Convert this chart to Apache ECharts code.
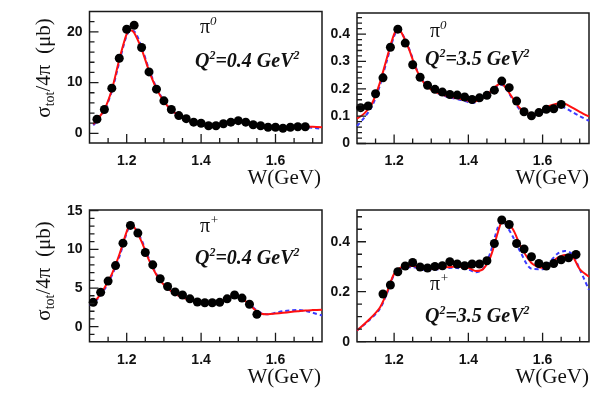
<!DOCTYPE html>
<html>
<head>
<meta charset="utf-8">
<script src="https://cdn.jsdelivr.net/npm/echarts@6.0.0/dist/echarts.min.js"></script>
<style>
html,body{margin:0;padding:0;background:#fff;}
#chart{width:611px;height:395px;}
</style>
</head>
<body>
<div id="chart"></div>
<script>
// ---------- data points ----------
const W_pi0_04 = [1.12,1.14,1.16,1.18,1.20,1.22,1.24,1.26,1.28,1.30,1.32,1.34,1.36,1.38,1.40,1.42,1.44,1.46,1.48,1.50,1.52,1.54,1.56,1.58,1.60,1.62,1.64,1.66,1.68];
const sig_pi0_04 = [2.8,4.7,8.9,14.8,20.5,21.3,16.9,12.1,8.7,6.4,4.7,3.5,2.9,2.2,2.0,1.5,1.5,1.9,2.2,2.5,2.2,1.7,1.5,1.2,1.2,1.0,1.2,1.3,1.3];

const W_pi0_35 = [1.11,1.13,1.15,1.17,1.19,1.21,1.23,1.25,1.27,1.29,1.31,1.33,1.35,1.37,1.39,1.41,1.43,1.45,1.47,1.49,1.51,1.53,1.55,1.57,1.59,1.61,1.63,1.65];
const sig_pi0_35 = [0.131,0.137,0.182,0.240,0.352,0.418,0.367,0.288,0.242,0.213,0.198,0.188,0.179,0.177,0.170,0.161,0.167,0.176,0.195,0.228,0.204,0.155,0.116,0.101,0.113,0.125,0.127,0.143];

const W_pip_04 = [1.11,1.13,1.15,1.17,1.19,1.21,1.23,1.25,1.27,1.29,1.31,1.33,1.35,1.37,1.39,1.41,1.43,1.45,1.47,1.49,1.51,1.53,1.55];
const sig_pip_04 = [3.15,4.44,5.9,7.9,10.8,13.1,12.1,9.6,8.0,6.2,5.2,4.5,4.1,3.6,3.2,3.1,3.1,3.15,3.6,4.1,3.7,2.9,1.6];

const W_pip_35 = [1.17,1.19,1.21,1.23,1.25,1.27,1.29,1.31,1.33,1.35,1.37,1.39,1.41,1.43,1.45,1.47,1.49,1.51,1.53,1.55,1.57,1.59,1.61,1.63,1.65,1.67,1.69];
const sig_pip_35 = [0.191,0.227,0.280,0.303,0.317,0.299,0.295,0.301,0.304,0.320,0.311,0.304,0.311,0.311,0.324,0.393,0.487,0.469,0.393,0.371,0.340,0.313,0.303,0.313,0.328,0.336,0.349];

// ---------- model curves (red solid, blue dashed) ----------
const Wfit_pi0_04 = [1.11,1.12,1.14,1.16,1.18,1.20,1.21,1.22,1.24,1.26,1.28,1.30,1.32,1.34,1.36,1.38,1.40,1.42,1.44,1.46,1.48,1.50,1.52,1.54,1.56,1.58,1.60,1.62,1.64,1.66,1.68,1.70,1.725];
const red_pi0_04  = [1.8,2.6,4.7,8.6,14.5,19.6,20.3,19.8,16.6,12.3,8.8,6.3,4.6,3.5,2.7,2.2,1.9,1.7,1.7,1.9,2.2,2.4,2.1,1.7,1.4,1.2,1.1,1.1,1.2,1.3,1.3,1.3,1.2];
const blue_pi0_04 = [1.6,2.4,4.5,8.3,14.0,19.3,20.2,20.1,17.0,12.6,9.0,6.4,4.6,3.5,2.7,2.2,1.9,1.7,1.7,1.9,2.2,2.4,2.1,1.7,1.4,1.2,1.1,1.1,1.2,1.2,1.2,1.1,0.9];

const Wfit_pi0_35 = [1.10,1.12,1.14,1.16,1.18,1.20,1.21,1.22,1.24,1.26,1.28,1.30,1.32,1.34,1.36,1.38,1.40,1.41,1.42,1.44,1.46,1.48,1.49,1.50,1.52,1.54,1.56,1.58,1.60,1.62,1.64,1.65,1.66,1.68,1.70,1.725];
const red_pi0_35  = [0.091,0.110,0.145,0.215,0.310,0.400,0.418,0.405,0.345,0.270,0.222,0.197,0.183,0.174,0.168,0.163,0.155,0.152,0.154,0.168,0.190,0.215,0.218,0.205,0.165,0.128,0.110,0.108,0.122,0.138,0.146,0.149,0.146,0.131,0.116,0.099];
const blue_pi0_35 = [0.064,0.095,0.135,0.205,0.300,0.392,0.413,0.405,0.348,0.274,0.224,0.197,0.182,0.172,0.165,0.159,0.151,0.148,0.150,0.165,0.187,0.212,0.215,0.203,0.160,0.122,0.105,0.104,0.115,0.124,0.131,0.133,0.130,0.115,0.100,0.083];

const Wfit_pip_04 = [1.10,1.12,1.14,1.16,1.18,1.20,1.21,1.22,1.24,1.26,1.28,1.30,1.32,1.34,1.36,1.38,1.40,1.42,1.44,1.46,1.48,1.49,1.50,1.52,1.54,1.56,1.58,1.60,1.62,1.64,1.66,1.68,1.70,1.725];
const red_pip_04  = [2.9,3.6,5.0,6.8,9.3,12.3,13.2,12.9,11.0,8.6,6.7,5.4,4.6,4.0,3.6,3.3,3.2,3.1,3.2,3.4,3.9,4.0,3.9,3.3,2.4,1.7,1.6,1.7,1.8,1.9,2.0,2.1,2.15,2.2];
const blue_pip_04 = [2.8,3.5,4.8,6.6,9.0,12.1,13.1,12.9,11.2,8.8,6.8,5.5,4.6,4.0,3.6,3.3,3.2,3.1,3.2,3.4,3.8,4.0,3.9,3.4,2.5,1.8,1.6,1.8,2.0,2.1,2.15,2.05,1.8,1.45];

const Wfit_pip_35 = [1.10,1.13,1.16,1.18,1.20,1.22,1.25,1.29,1.33,1.36,1.40,1.42,1.44,1.46,1.48,1.49,1.50,1.52,1.54,1.57,1.60,1.62,1.64,1.66,1.68,1.70,1.725];
const red_pip_35  = [0.045,0.085,0.133,0.195,0.272,0.298,0.303,0.291,0.296,0.300,0.296,0.283,0.291,0.340,0.440,0.478,0.480,0.450,0.385,0.315,0.296,0.312,0.335,0.347,0.342,0.290,0.260];
const blue_pip_35 = [0.045,0.082,0.128,0.190,0.268,0.295,0.298,0.286,0.292,0.296,0.288,0.278,0.292,0.360,0.460,0.480,0.470,0.420,0.360,0.292,0.290,0.320,0.352,0.363,0.350,0.290,0.207];

// ---------- ticks ----------
const xRange = [1.1, 1.725];
const xMajor = [1.2, 1.4, 1.6];
const xMinor = [1.15, 1.25, 1.3, 1.35, 1.45, 1.5, 1.55, 1.65, 1.7];

const yRange1 = [-1.9, 24.0], yMajor1 = [0, 10, 20], yMinor1 = [2,4,6,8,12,14,16,18,22];
const yRange2 = [0, 0.477], yMajor2 = [0, 0.1, 0.2, 0.3, 0.4], yMinor2 = [0.02,0.04,0.06,0.08,0.12,0.14,0.16,0.18,0.22,0.24,0.26,0.28,0.32,0.34,0.36,0.38,0.42,0.44,0.46];
const yRange3 = [-1.94, 15.09], yMajor3 = [0, 5, 10, 15], yMinor3 = [-1,1,2,3,4,6,7,8,9,11,12,13,14];
const yRange4 = [0, 0.527], yMajor4 = [0, 0.2, 0.4], yMinor4 = [0.05,0.1,0.15,0.25,0.3,0.35,0.45,0.5];

const zip = (a, b) => a.map((v, i) => [v, b[i]]);

const panels = [
  {grid:{left:89.5, top:11.5, width:232.5, height:131.5}, yr:yRange1, yM:yMajor1, ym:yMinor1,
   W:W_pi0_04, s:sig_pi0_04, Wf:Wfit_pi0_04, r:red_pi0_04, b:blue_pi0_04},
  {grid:{left:357, top:13, width:232, height:130.5}, yr:yRange2, yM:yMajor2, ym:yMinor2,
   W:W_pi0_35, s:sig_pi0_35, Wf:Wfit_pi0_35, r:red_pi0_35, b:blue_pi0_35},
  {grid:{left:89.5, top:210, width:232.5, height:131.7}, yr:yRange3, yM:yMajor3, ym:yMinor3,
   W:W_pip_04, s:sig_pip_04, Wf:Wfit_pip_04, r:red_pip_04, b:blue_pip_04},
  {grid:{left:357, top:210, width:232, height:131.7}, yr:yRange4, yM:yMajor4, ym:yMinor4,
   W:W_pip_35, s:sig_pip_35, Wf:Wfit_pip_35, r:red_pip_35, b:blue_pip_35}
];

const frameColor = '#1a1a1a';
const labelFont = {fontFamily:'"Liberation Sans", Arial, sans-serif', fontWeight:'bold', fontSize:14, color:'#111'};

// tick marks as short line segments in data space (length converted from px via the grid size)
function tickLine(k, segs) {
  return {type:'line', xAxisIndex:k, yAxisIndex:k, data:segs, showSymbol:false, symbol:'none',
    connectNulls:false, silent:true, z:6, clip:false, animation:false,
    lineStyle:{color:frameColor, width:1.3}};
}

const grids = [], xAxes = [], yAxes = [], series = [];
panels.forEach((p, k) => {
  grids.push(Object.assign({show:true, borderColor:frameColor, borderWidth:1.5, backgroundColor:'transparent', containLabel:false}, p.grid));
  xAxes.push({type:'value', gridIndex:k, min:xRange[0], max:xRange[1], position:'bottom',
    axisLine:{show:false, onZero:false}, splitLine:{show:false}, axisTick:{show:false},
    axisLabel:Object.assign({show:true, margin:11, customValues:xMajor, formatter:v => v.toFixed(1)}, labelFont)});
  yAxes.push({type:'value', gridIndex:k, min:p.yr[0], max:p.yr[1], position:'left',
    axisLine:{show:false, onZero:false}, splitLine:{show:false}, axisTick:{show:false},
    axisLabel:Object.assign({show:true, margin:7, customValues:p.yM, formatter:v => String(v)}, labelFont)});

  series.push({type:'line', xAxisIndex:k, yAxisIndex:k, data:zip(p.Wf, p.b), showSymbol:false, smooth:0.3,
    lineStyle:{color:'#3b3bff', width:2, type:[4,3]}, z:2, silent:true});
  series.push({type:'line', xAxisIndex:k, yAxisIndex:k, data:zip(p.Wf, p.r), showSymbol:false, smooth:0.3,
    lineStyle:{color:'#ff1010', width:2}, z:3, silent:true});
  series.push({type:'scatter', xAxisIndex:k, yAxisIndex:k, data:zip(p.W, p.s), symbol:'circle', symbolSize:9,
    itemStyle:{color:'#000', opacity:1}, z:4, silent:true});

  // px -> data unit factors for tick lengths
  const yPerPx = (p.yr[1] - p.yr[0]) / p.grid.height;
  const xPerPx = (xRange[1] - xRange[0]) / p.grid.width;
  const segs = [];
  const gap = ['-', '-'];
  xMajor.forEach(v => { segs.push([v, p.yr[0]], [v, p.yr[0] + 9 * yPerPx], gap); });
  xMinor.forEach(v => { segs.push([v, p.yr[0]], [v, p.yr[0] + 5 * yPerPx], gap); });
  const ysegs = [];
  p.yM.forEach(v => { ysegs.push([xRange[0], v], [xRange[0] + 9 * xPerPx, v], gap); });
  p.ym.forEach(v => { ysegs.push([xRange[0], v], [xRange[0] + 5 * xPerPx, v], gap); });
  series.push(tickLine(k, segs));
  series.push(tickLine(k, ysegs));
});

// ---------- texts ----------
const serif = '"Liberation Serif", "Times New Roman", serif';
function ytitle(x, y) {
  return {type:'text', x:x, y:y, rotation:Math.PI/2, z:10,
    style:{text:'{m|σ}{s|tot}{m|/4π  (μb)}', align:'center', verticalAlign:'middle', fill:'#111',
      rich:{m:{fontFamily:serif, fontSize:21, lineHeight:26, fill:'#111'},
            s:{fontFamily:serif, fontSize:14, lineHeight:14, verticalAlign:'bottom', fill:'#111'}}}};
}
function wtitle(x, y) {
  return {type:'text', x:x, y:y, z:10,
    style:{text:'W(GeV)', align:'right', verticalAlign:'middle', font:'21px ' + serif, fill:'#111'}};
}
function pilabel(x, y, sup) {
  return {type:'text', x:x, y:y, z:10,
    style:{text:'{p|π}{s|' + sup + '}', align:'left', verticalAlign:'middle', fill:'#111',
      rich:{p:{fontFamily:serif, fontSize:20, lineHeight:26, fill:'#111'},
            s:{fontFamily:serif, fontSize:13, fontStyle:'italic', lineHeight:13, verticalAlign:'top', fill:'#111'}}}};
}
function qlabel(x, y, q) {
  const b = {fontFamily:serif, fontSize:20, fontStyle:'italic', fontWeight:'bold', lineHeight:24, fill:'#111'};
  const s = {fontFamily:serif, fontSize:12, fontStyle:'italic', fontWeight:'bold', lineHeight:12, verticalAlign:'top', fill:'#111'};
  return {type:'text', x:x, y:y, z:10,
    style:{text:'{b|Q}{s|2}{b|=' + q + ' GeV}{s|2}', align:'left', verticalAlign:'middle', fill:'#111', rich:{b:b, s:s}}};
}

const graphics = [
  ytitle(44, 68), ytitle(44, 271),
  wtitle(321, 178), wtitle(589, 178), wtitle(321, 377), wtitle(589, 377),
  pilabel(200, 28, '0'), pilabel(430, 32, '0'), pilabel(200, 227, '+'), pilabel(430, 285, '+'),
  qlabel(195, 62, '0.4'), qlabel(425, 60, '3.5'), qlabel(195, 259, '0.4'), qlabel(425, 317, '3.5')
];

const chart = echarts.init(document.getElementById('chart'), null, {renderer:'canvas'});
chart.setOption({
  animation:false,
  backgroundColor:'#fff',
  grid:grids, xAxis:xAxes, yAxis:yAxes, series:series,
  graphic:graphics
});
</script>
</body>
</html>
